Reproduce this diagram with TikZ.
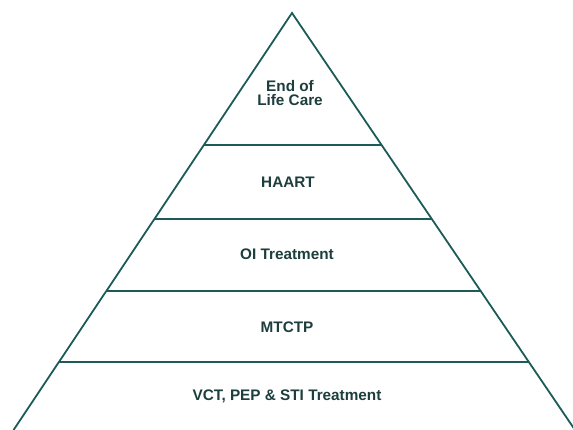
\documentclass[tikz,border=0pt]{standalone}
\usepackage{fontspec}
\setmainfont{Liberation Sans}
\usetikzlibrary{math}
\definecolor{edgecol}{RGB}{28,92,88}
\definecolor{labelcol}{RGB}{30,62,62}

\begin{document}
\begin{tikzpicture}[x=1pt,y=-1pt,
	side/.style={draw=edgecol, line width=1.8pt, line join=miter},
	layer/.style={draw=edgecol, line width=1.8pt},
	tier/.style={text=labelcol, font=\fontsize{15.3}{14}\selectfont\bfseries, align=center, inner sep=0pt}]
	\tikzmath{\topx=292; \topy=13; \lbx=13.5; \rbx=575; \boty=430;
	\capx=287;}
	\useasboundingbox (0,0) rectangle (573,430);
	\fill[white] (0,0) rectangle (573,430);
	% outline of the pyramid
	\draw[side] (\lbx,\boty) -- (\topx,\topy) -- (\rbx,\boty);
	% dividing lines
	\foreach \ly in {145,219,291,362} {
		\tikzmath{\t=(\ly-\topy)/(\boty-\topy); \lx=\topx+\t*(\lbx-\topx); \rx=\topx+\t*(\rbx-\topx);}
		\draw[layer] (\lx,\ly) -- (\rx,\ly);
	}
	\node[tier] (eolc) at (\capx+3, 93) {End of\\Life Care};
	\node[tier] (haart) at (\capx+1, 182) {HAART};
	\node[tier] (oitreat) at (\capx, 254) {OI Treatment};
	\node[tier] (mtctp) at (\capx, 327) {MTCTP};
	\node[tier] (vct) at (\capx, 396) {VCT, PEP \& STI Treatment};
\end{tikzpicture}
\end{document}
